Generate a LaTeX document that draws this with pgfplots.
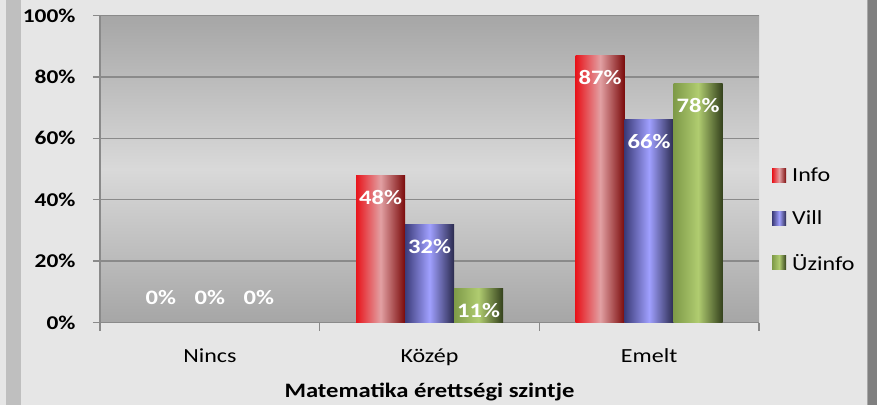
\documentclass[border=0pt]{standalone}
\usepackage{fontspec}
\setmainfont{Carlito}[FakeStretch=1.2]
\usepackage{pgfplots}
\pgfplotsset{compat=1.18}
\definecolor{bgout}{HTML}{E6E6E6}
\definecolor{stripL}{HTML}{BFBFBF}
\definecolor{stripR}{HTML}{808080}
\definecolor{stripRl}{HTML}{A8A8A8}
\definecolor{gridc}{HTML}{8A8A8A}
\definecolor{pTop}{HTML}{A6A6A6}
\definecolor{pMid}{HTML}{D9D9D9}
\definecolor{rL}{HTML}{E8141B}
\definecolor{rM}{HTML}{E2A0A3}
\definecolor{rR}{HTML}{7A0A0A}
\definecolor{bL}{HTML}{3C3C7A}
\definecolor{bM}{HTML}{A0A0FF}
\definecolor{bR}{HTML}{2A2A4E}
\definecolor{gL}{HTML}{7E9A48}
\definecolor{gM}{HTML}{B0CC70}
\definecolor{gR}{HTML}{33401C}
\pgfplotsset{
  redbar/.style={ybar, bar width=49pt, bar shift=-49pt, draw=none, left color=rL, right color=rR, middle color=rM, every node near coord/.append style={xshift=-49pt}},
  bluebar/.style={ybar, bar width=49pt, bar shift=0pt, draw=none, left color=bL, right color=bR, middle color=bM},
  greenbar/.style={ybar, bar width=49pt, bar shift=49pt, draw=none, left color=gL, right color=gR, middle color=gM, every node near coord/.append style={xshift=49pt}},
}
\begin{document}
\begin{tikzpicture}
\fill[bgout] (-100pt,-82pt) rectangle (777pt,322pt);
\fill[stripL] (-94pt,-82pt) rectangle (-79pt,322pt);
\fill[stripR] (768pt,-82pt) rectangle (777pt,322pt);
\draw[stripRl, line width=1pt] (767.5pt,-82pt) -- (767.5pt,322pt);
\begin{axis}[
  scale only axis, width=659pt, height=307pt,
  xmin=-0.5, xmax=2.5, ymin=0, ymax=100,
  axis x line*=bottom, axis y line*=left,
  axis line style={draw=gridc, line width=1.3pt},
  axis background/.style={top color=pTop, bottom color=pTop, middle color=pMid},
  ymajorgrids, grid style={draw=gridc, line width=1.3pt},
  tick align=outside, major tick length=7pt,
  ytick={0,20,40,60,80,100},
  yticklabels={0\%,20\%,40\%,60\%,80\%,100\%},
  y tick style={draw=gridc, line width=1.3pt},
  yticklabel style={font=\fontsize{19.5}{24}\selectfont\bfseries, anchor=east, xshift=-14pt},
  xtick={0,1,2},
  xticklabels={Nincs,Közép,Emelt},
  x tick style={draw=none},
  xticklabel style={font=\fontsize{20}{24}\selectfont, anchor=base, yshift=-33pt},
  extra x ticks={-0.5,0.5,1.5,2.5},
  extra x tick labels={},
  extra x tick style={x tick style={draw=gridc, line width=1.3pt}, major tick length=8pt},
  xlabel={Matematika érettségi szintje},
  xlabel style={at={(axis description cs:0.5,0)}, anchor=base, yshift=-75pt, font=\fontsize{20.5}{24}\selectfont\bfseries},
  /pgf/number format/assume math mode=true,
  visualization depends on={rawy \as \rawy},
  nodes near coords={\pgfmathprintnumber{\pgfplotspointmeta}\%},
  every node near coord/.append style={text=white, font=\fontsize{20.5}{24}\selectfont\bfseries, anchor=center, yshift={\rawy>0.5 ? -22 : 25}},
  legend style={at={(1,0.3355)}, anchor=west, xshift=10pt, draw=none, fill=none, font=\fontsize{20}{24}\selectfont, row sep=24pt},
  legend cell align=left,
  legend image code/.code={\path[#1, draw=none] (-9pt,-7pt) rectangle (5pt,7pt); \path (5pt,0pt) -- (9pt,0pt);},
]
% Info
\addplot[redbar, fill=none, shading=none, forget plot] coordinates {(0,0)};
\addplot[redbar] coordinates {(1,48)};
\addlegendentry{Info}
\addplot[redbar, forget plot] coordinates {(2,87)};
% Vill
\addplot[bluebar, fill=none, shading=none, forget plot] coordinates {(0,0)};
\addplot[bluebar] coordinates {(1,32)};
\addlegendentry{Vill}
\addplot[bluebar, forget plot] coordinates {(2,66)};
% Uzinfo
\addplot[greenbar, fill=none, shading=none, forget plot] coordinates {(0,0)};
\addplot[greenbar] coordinates {(1,11)};
\addlegendentry{Üzinfo}
\addplot[greenbar, forget plot] coordinates {(2,78)};
\end{axis}
\end{tikzpicture}
\end{document}
